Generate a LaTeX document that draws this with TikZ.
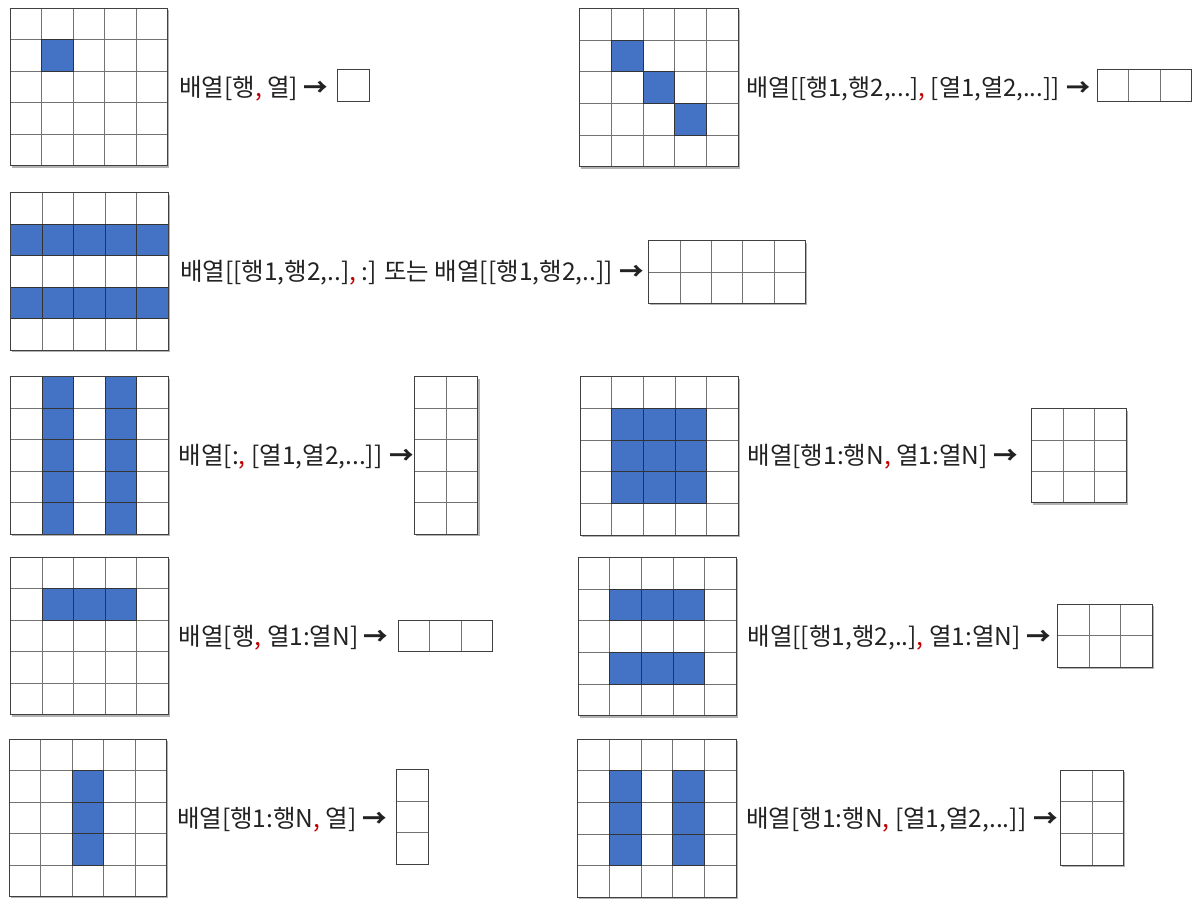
\documentclass[tikz,border=0pt]{standalone}
\usepackage{fontspec}
\setmainfont{Noto Sans CJK KR}
\usetikzlibrary{calc,shadows}
\definecolor{cellblue}{HTML}{4472C4}
\definecolor{txt}{HTML}{222222}
\definecolor{commared}{HTML}{C00000}
\tikzset{
  shadowed/.style={drop shadow={shadow xshift=1.6pt,shadow yshift=-1.8pt,opacity=0.3,fill=black}},
  plainbox/.style={},
  gridline/.style={draw=black!55, line width=0.8pt},
  outline/.style={draw=black!75, line width=0.9pt},
  bluecell/.style={fill=cellblue},
  blueedge/.style={draw=black!80, line width=0.8pt},
  lbl/.style={anchor=base west, inner sep=0pt, text=txt, font=\fontsize{24.5}{28}\selectfont},
}
\newcommand{\rc}{\textcolor{commared}{,}}
\newcommand{\arr}{\textbf{→}}
% \gridlinesof{name}{w}{h}{cols}{rows}
\newcommand{\gridlinesof}[5]{%
  \ifnum#4>1
    \pgfmathtruncatemacro{\ncm}{#4-1}%
    \foreach \i in {1,...,\ncm}{\draw[gridline] ($(#1.north west)+({\i*#2/#4},0)$) -- ++(0,#3);}%
  \fi
  \ifnum#5>1
    \pgfmathtruncatemacro{\nrm}{#5-1}%
    \foreach \j in {1,...,\nrm}{\draw[gridline] ($(#1.north west)+(0,{\j*#3/#5})$) -- ++(#2,0);}%
  \fi
}
% \bigrid{name}{x}{y}{size}{blue cells c/r}
\newcommand{\bigrid}[5]{%
  \node[inner sep=0pt, outer sep=0pt, minimum width=#4pt, minimum height=#4pt, anchor=north west, fill=white, shadowed] (#1) at (#2,#3) {};
  \pgfmathsetmacro{\cs}{#4/5}%
  \foreach \c/\r in {#5}{\fill[bluecell] ($(#1.north west)+({\c*\cs},{\r*\cs})$) rectangle ++(\cs,\cs);}%
  \gridlinesof{#1}{#4}{#4}{5}{5}%
  \foreach \c/\r in {#5}{\draw[blueedge] ($(#1.north west)+({\c*\cs},{\r*\cs})$) rectangle ++(\cs,\cs);}%
  \draw[outline] (#1.north west) rectangle (#1.south east);
}
% \resbox{name}{x}{y}{w}{h}{cols}{rows}{style}
\newcommand{\resbox}[8]{%
  \node[inner sep=0pt, outer sep=0pt, minimum width=#4pt, minimum height=#5pt, anchor=north west, fill=white, #8] (#1) at (#2,#3) {};
  \gridlinesof{#1}{#4}{#5}{#6}{#7}%
  \draw[outline] (#1.north west) rectangle (#1.south east);
}
\begin{document}
\begin{tikzpicture}[x=1pt,y=-1pt]
\useasboundingbox[fill=white] (0,0) rectangle (1202,916);
% source grids
\bigrid{g1}{10}{8.3}{157.5}{1/1}
\bigrid{g2}{579.5}{8.3}{158.5}{1/1,2/2,3/3}
\bigrid{g3}{10.5}{192.7}{157.5}{0/1,1/1,2/1,3/1,4/1,0/3,1/3,2/3,3/3,4/3}
\bigrid{g4}{10.5}{376.7}{157.5}{1/0,1/1,1/2,1/3,1/4,3/0,3/1,3/2,3/3,3/4}
\bigrid{g5}{580}{376.7}{158.5}{1/1,2/1,3/1,1/2,2/2,3/2,1/3,2/3,3/3}
\bigrid{g6}{10.5}{557.3}{157.5}{1/1,2/1,3/1}
\bigrid{g7}{578}{557.3}{158.5}{1/1,2/1,3/1,1/3,2/3,3/3}
\bigrid{g8}{9}{739}{157.5}{2/1,2/2,2/3}
\bigrid{g9}{577.5}{739}{158.5}{1/1,1/2,1/3,3/1,3/2,3/3}
% result boxes
\resbox{r1}{337.3}{69.3}{32}{31.7}{1}{1}{plainbox}
\resbox{r2}{1097.2}{69.3}{94.7}{31.7}{3}{1}{plainbox}
\resbox{r3}{648.5}{240.7}{157}{62.6}{5}{2}{shadowed}
\resbox{r4}{414.3}{376.7}{63.6}{157.3}{2}{5}{shadowed}
\resbox{r5}{1031.5}{408.7}{94.7}{94}{3}{3}{shadowed}
\resbox{r6}{398.2}{620.3}{94.7}{31.4}{3}{1}{plainbox}
\resbox{r7}{1057.7}{604.3}{94.7}{63}{3}{2}{shadowed}
\resbox{r8}{396.4}{769.3}{32.2}{95}{1}{3}{plainbox}
\resbox{r9}{1060.5}{770.3}{63}{94.7}{2}{3}{shadowed}
% labels
\node[lbl] (t1) at (179,96) {배열[행\rc{} 열] \arr};
\node[lbl, font=\fontsize{24}{28}\selectfont] (t2) at (746,96) {배열[[행1,행2,...]\rc{} [열1,열2,...]] \arr};
\node[lbl] (t3) at (180,280.5) {배열[[행1,행2,..]\rc{} :] 또는 배열[[행1,행2,..]] \arr};
\node[lbl] (t4) at (178.6,464) {배열[:\rc{} [열1,열2,...]] \arr};
\node[lbl] (t5) at (747.3,464) {배열[행1:행N\rc{} 열1:열N] \arr};
\node[lbl] (t6) at (178.6,645) {배열[행\rc{} 열1:열N] \arr};
\node[lbl] (t7) at (747.3,645) {배열[[행1,행2,..]\rc{} 열1:열N] \arr};
\node[lbl] (t8) at (176.8,827) {배열[행1:행N\rc{} 열] \arr};
\node[lbl] (t9) at (746.1,827) {배열[행1:행N\rc{} [열1,열2,...]] \arr};
\end{tikzpicture}
\end{document}
